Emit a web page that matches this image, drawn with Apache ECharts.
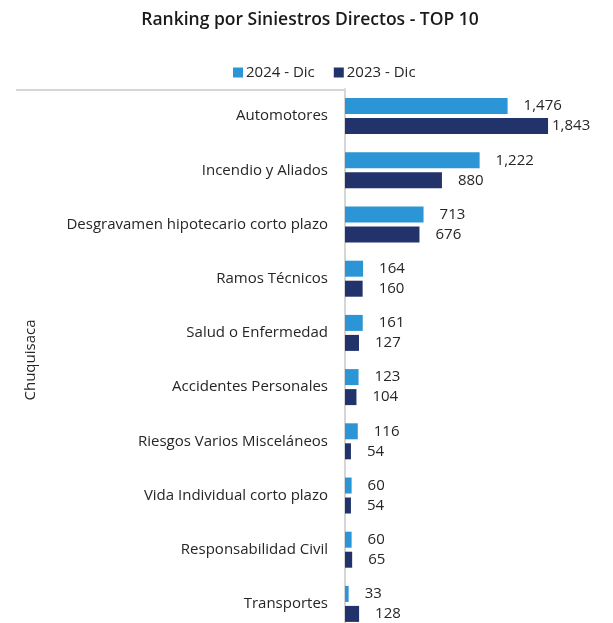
<!DOCTYPE html>
<html>
<head>
<meta charset="utf-8">
<script src="https://cdn.jsdelivr.net/npm/echarts@6/dist/echarts.min.js"></script>
<style>html,body{margin:0;padding:0;background:#fff}#c{width:613px;height:623px}</style>
</head>
<body>
<div id="c"></div>
<script>
const categories = ["Automotores","Incendio y Aliados","Desgravamen hipotecario corto plazo","Ramos Técnicos","Salud o Enfermedad","Accidentes Personales","Riesgos Varios Misceláneos","Vida Individual corto plazo","Responsabilidad Civil","Transportes"];
const values2024 = [1476,1222,713,164,161,123,116,60,60,33];
const values2023 = [1843,880,676,160,127,104,54,54,65,128];
const seriesNames = ["2024 - Dic","2023 - Dic"];
const groupName = "Chuquisaca";

const FONT = "Open Sans";
const chart = echarts.init(document.getElementById('c'));
const fmt = v => v.toLocaleString('en-US');
const maxVal = Math.max(...values2023, ...values2024);
const data2023 = values2023.map(v => v === maxVal ? {value: v, label: {distance: 4}} : v);

chart.setOption({
  animation: false,
  textStyle: {fontFamily: FONT},
  title: {
    text: "Ranking por Siniestros Directos - TOP 10",
    left: 305, top: 6, textAlign: 'center',
    textStyle: {fontFamily: FONT, fontWeight: 600, fontSize: 17.5, color: '#1a1a1a'}
  },
  legend: {
    data: seriesNames,
    left: 228, top: 60,
    itemWidth: 10, itemHeight: 10, itemGap: 19,
    icon: 'rect',
    textStyle: {fontFamily: FONT, fontSize: 15, color: '#262626', padding: [0,0,0,-2]}
  },
  grid: {left: 345, top: 89, width: 264.4, height: 542, outerBoundsMode: 'none'},
  xAxis: {type: 'value', min: 0, max: 2400, show: false},
  yAxis: {
    type: 'category', data: categories, inverse: true,
    axisLine: {show: true, lineStyle: {color: '#d6d6d6', width: 2}},
    axisTick: {show: false},
    axisLabel: {fontFamily: FONT, fontSize: 15, color: '#262626', margin: 17},
    name: groupName, nameLocation: 'middle', nameGap: 307, nameRotate: 90,
    nameTextStyle: {fontFamily: FONT, fontSize: 15, color: '#262626'}
  },
  graphic: [{
    type: 'line', shape: {x1: 16, y1: 90, x2: 345, y2: 90},
    style: {stroke: '#d6d6d6', lineWidth: 2}
  }],
  series: [
    {name: seriesNames[0], type: 'bar', data: values2024, barWidth: 16, barGap: '25%',
     itemStyle: {color: '#2b95d5'},
     label: {show: true, position: 'right', distance: 16, formatter: p => fmt(p.value),
             fontFamily: FONT, fontSize: 15, color: '#262626'}},
    {name: seriesNames[1], type: 'bar', data: data2023, barWidth: 16, barGap: '25%',
     itemStyle: {color: '#22326a'},
     label: {show: true, position: 'right', distance: 16, formatter: p => fmt(p.value),
             fontFamily: FONT, fontSize: 15, color: '#262626'}}
  ]
});
</script>
</body>
</html>
